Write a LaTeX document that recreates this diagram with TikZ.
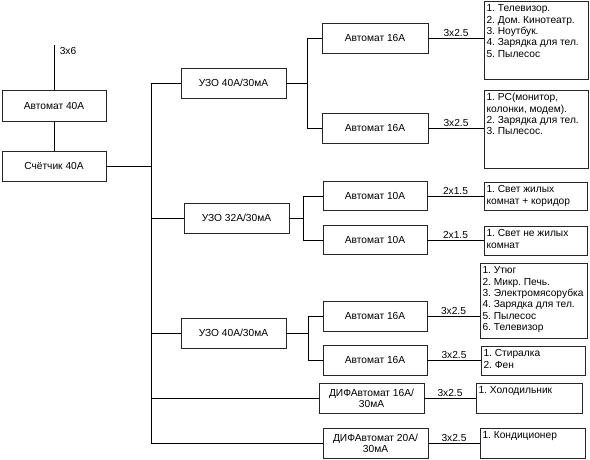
\documentclass[tikz,border=0pt]{standalone}
\usepackage{fontspec}
\setmainfont{Liberation Sans}
\frenchspacing
\newcommand\fsz{\fontsize{10.2}{11.3}\selectfont}
\newcommand\mylist[3]{\parbox[c][#1][t]{#2}{\raggedright\frenchspacing\fsz\strut #3}}
\begin{document}
\begin{tikzpicture}[x=1pt,y=-1pt,
  box/.style={draw=black!85, line width=0.9pt, minimum width=105pt, minimum height=30pt, inner sep=0pt, font=\fsz, align=center},
  listbox/.style={draw=black!85, line width=0.9pt, inner xsep=2.5pt, inner ysep=3pt},
  wire/.style={draw=black, line width=0.8pt},
  lbl/.style={font=\fsz, inner sep=1.5pt, above}]
\useasboundingbox (0,0) rectangle (590,459);
% main chain
\coordinate (in) at (54,45);
\node[box, minimum width=104pt, minimum height=31pt] (a40) at (54,105.5) {Автомат 40А};
\node[box, minimum width=104pt] (sch) at (54,166) {Счётчик 40А};
\node[font=\fsz, inner sep=0pt] (l36) at (68,51) {3x6};
\draw[wire] (in) -- (a40.north);
\draw[wire] (a40.south) -- (sch.south |- sch.north);
% bus
\coordinate (bt) at (151,83);
\coordinate (bb) at (151,443);
\draw[wire] (bt) -- (bb);
\draw[wire] (sch.east) -- (sch.east -| bt);
% RCDs
\node[box] (u1) at (233.5,83) {УЗО 40А/30мА};
\node[box] (u2) at (236.5,218) {УЗО 32А/30мА};
\node[box] (u3) at (233.5,333) {УЗО 40А/30мА};
\node[box] (d1) at (371.5,398) {ДИФАвтомат 16А/\\30мА};
\node[box] (d2) at (375.5,443) {ДИФАвтомат 20А/\\30мА};
\draw[wire] (bt) -- (u1.west);
\draw[wire] (u2.west -| bt) -- (u2.west);
\draw[wire] (u3.west -| bt) -- (u3.west);
\draw[wire] (d1.west -| bt) -- (d1.west);
\draw[wire] (bb) -- (d2.west);
% breakers
\node[box, minimum width=106pt] (a1) at (375,38) {Автомат 16А};
\node[box, minimum width=106pt] (a2) at (375,128) {Автомат 16А};
\node[box, minimum width=104pt, minimum height=29pt] (a3) at (375,196) {Автомат 10А};
\node[box, minimum width=104pt, minimum height=29pt] (a4) at (375,240) {Автомат 10А};
\node[box, minimum width=104pt] (a5) at (375,316) {Автомат 16А};
\node[box, minimum width=104pt] (a6) at (375,360) {Автомат 16А};
% sub-buses
\coordinate (s1) at (307,0);
\coordinate (s2) at (303,0);
\coordinate (s3) at (308,0);
\draw[wire] (u1.east) -- (u1.east -| s1);
\draw[wire] (a1.west) -| (s1 |- a2.west) -- (a2.west);
\draw[wire] (u2.east) -- (u2.east -| s2);
\draw[wire] (a3.west) -| (s2 |- a4.west) -- (a4.west);
\draw[wire] (u3.east) -- (u3.east -| s3);
\draw[wire] (a5.west) -| (s3 |- a6.west) -- (a6.west);
% load lists
\node[listbox] (l1) at (536,40) {\mylist{72pt}{99pt}{1. Телевизор.\\2. Дом. Кинотеатр.\\3. Ноутбук.\\4. Зарядка для тел.\\5. Пылесос}};
\node[listbox] (l2) at (536,129) {\mylist{72pt}{99pt}{1. PC(монитор,\\колонки, модем).\\2. Зарядка для тел.\\3. Пылесос.}};
\node[listbox] (l3) at (535.5,196) {\mylist{22pt}{98pt}{1. Свет жилых\\комнат + коридор}};
\node[listbox] (l4) at (535.5,240.5) {\mylist{23pt}{98pt}{1. Свет не жилых\\комнат}};
\node[listbox] (l5) at (533.5,300.5) {\mylist{69pt}{102pt}{1. Утюг\\2. Микр. Печь.\\3. Электромясорубка\\4. Зарядка для тел.\\5. Пылесос\\6. Телевизор}};
\node[listbox] (l6) at (533,360.5) {\mylist{23pt}{99pt}{1. Стиралка\\2. Фен}};
\node[listbox] (l7) at (529,398) {\mylist{24pt}{101pt}{1. Холодильник}};
\node[listbox] (l8) at (532.5,443) {\mylist{24pt}{100pt}{1. Кондиционер}};
% feeder wires
\draw[wire] (a1.east) -- node[lbl] {3x2.5} (a1.east -| l1.west);
\draw[wire] (a2.east) -- node[lbl] {3x2.5} (a2.east -| l2.west);
\draw[wire] (a3.east) -- node[lbl] {2x1.5} (a3.east -| l3.west);
\draw[wire] (a4.east) -- node[lbl] {2x1.5} (a4.east -| l4.west);
\draw[wire] (a5.east) -- node[lbl] {3x2.5} (a5.east -| l5.west);
\draw[wire] (a6.east) -- node[lbl] {3x2.5} (a6.east -| l6.west);
\draw[wire] (d1.east) -- node[lbl] {3x2.5} (d1.east -| l7.west);
\draw[wire] (d2.east) -- node[lbl] {3x2.5} (d2.east -| l8.west);
\end{tikzpicture}
\end{document}
